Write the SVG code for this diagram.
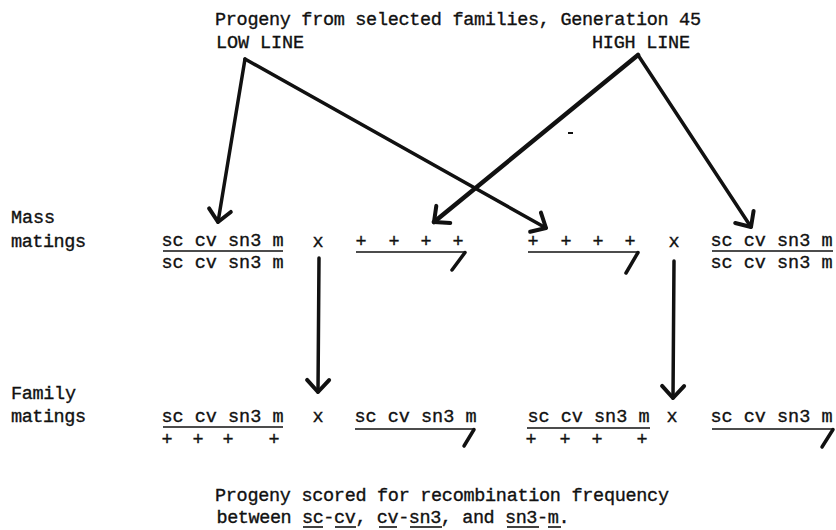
<svg xmlns="http://www.w3.org/2000/svg" width="836" height="530" viewBox="0 0 836 530">
<style>
text{font-family:"Liberation Mono","Courier New",monospace;font-size:18.5px;fill:#111;stroke:#111;stroke-width:0.35}
.c{text-anchor:middle}
.bar{stroke:#111;stroke-width:1.6;fill:none}
.hook{stroke:#111;stroke-width:3.5;stroke-linecap:round;fill:none}
.arr{stroke:#111;stroke-width:3.5;stroke-linecap:round;fill:none;marker-end:url(#ah)}
.arr.thick{stroke-width:4.5}
</style>
<defs>
<marker id="ah" markerUnits="userSpaceOnUse" markerWidth="30" markerHeight="30" refX="0" refY="0" orient="auto" overflow="visible">
<path d="M -12 -11 L 0 0 L -12 11" fill="none" stroke="#111" stroke-width="4" stroke-linecap="round" stroke-linejoin="round"/>
</marker>
</defs>
<rect width="836" height="530" fill="#fff"/>

<g id="title">
<text x="215" y="25" textLength="486" lengthAdjust="spacing">Progeny from selected families, Generation 45</text>
</g>
<g id="low-line"><text x="216" y="48" textLength="88" lengthAdjust="spacing">LOW LINE</text></g>
<g id="high-line"><text x="592" y="48" textLength="98" lengthAdjust="spacing">HIGH LINE</text></g>

<g id="label-mass">
<text x="11" y="223" textLength="44" lengthAdjust="spacing">Mass</text>
<text x="11" y="247" textLength="75" lengthAdjust="spacing">matings</text>
</g>
<g id="label-family">
<text x="11" y="399" textLength="65" lengthAdjust="spacing">Family</text>
<text x="11" y="422" textLength="75" lengthAdjust="spacing">matings</text>
</g>

<!-- Mass matings -->
<g id="mass-low-female">
<text x="161.5" y="246" textLength="122" lengthAdjust="spacing">sc cv sn3 m</text>
<line class="bar" x1="163" y1="251" x2="283" y2="251"/>
<text x="161.5" y="268" textLength="122" lengthAdjust="spacing">sc cv sn3 m</text>
</g>
<g id="mass-x1"><text class="c" x="318" y="247">x</text></g>
<g id="mass-high-male">
<text class="c" x="361 394 426 458" y="247">++++</text>
<line class="bar" x1="356" y1="252" x2="465" y2="252"/>
<line class="hook" x1="465" y1="252.5" x2="452" y2="270"/>
</g>
<g id="mass-low-male">
<text class="c" x="533 566 598 630" y="247">++++</text>
<line class="bar" x1="528" y1="252" x2="638" y2="252"/>
<line class="hook" x1="638" y1="252.5" x2="626" y2="273"/>
</g>
<g id="mass-x2"><text class="c" x="674" y="247">x</text></g>
<g id="mass-high-female">
<text x="710.5" y="246" textLength="122" lengthAdjust="spacing">sc cv sn3 m</text>
<line class="bar" x1="712" y1="251" x2="833" y2="251"/>
<text x="710.5" y="268" textLength="122" lengthAdjust="spacing">sc cv sn3 m</text>
</g>

<!-- Family matings -->
<g id="family-low-female">
<text x="161.5" y="422" textLength="122" lengthAdjust="spacing">sc cv sn3 m</text>
<line class="bar" x1="163" y1="427" x2="283" y2="427"/>
<text class="c" x="167 198 228 274" y="445">++++</text>
</g>
<g id="family-x1"><text class="c" x="318" y="422">x</text></g>
<g id="family-low-male">
<text x="354.5" y="422" textLength="122" lengthAdjust="spacing">sc cv sn3 m</text>
<line class="bar" x1="355" y1="429" x2="474" y2="429"/>
<line class="hook" x1="474" y1="429.5" x2="464" y2="446"/>
</g>
<g id="family-high-female">
<text x="527.5" y="422" textLength="122" lengthAdjust="spacing">sc cv sn3 m</text>
<line class="bar" x1="527" y1="428" x2="650" y2="428"/>
<text class="c" x="531 565 597 642" y="445">++++</text>
</g>
<g id="family-x2"><text class="c" x="672" y="422">x</text></g>
<g id="family-high-male">
<text x="710.5" y="422" textLength="122" lengthAdjust="spacing">sc cv sn3 m</text>
<line class="bar" x1="712" y1="429" x2="833" y2="429"/>
<line class="hook" x1="833" y1="429.5" x2="822" y2="447"/>
</g>

<g id="footer">
<text x="215" y="501" textLength="454" lengthAdjust="spacing">Progeny scored for recombination frequency</text>
<text x="216.5" y="523" textLength="353" lengthAdjust="spacing">between sc-cv, cv-sn3, and sn3-m.</text>
<line class="bar" x1="303" y1="527" x2="323" y2="527"/>
<line class="bar" x1="335" y1="527" x2="356" y2="527"/>
<line class="bar" x1="379" y1="527" x2="397" y2="527"/>
<line class="bar" x1="410" y1="527" x2="442" y2="527"/>
<line class="bar" x1="507" y1="527" x2="539" y2="527"/>
<line class="bar" x1="548" y1="527" x2="561" y2="527"/>
</g>

<g id="connectors">
<line class="arr" x1="245" y1="59" x2="218" y2="222"/>
<line class="arr" x1="245" y1="59" x2="546" y2="228"/>
<line class="arr thick" x1="638" y1="55" x2="434" y2="222"/>
<line class="arr" x1="638" y1="55" x2="751" y2="227"/>
<line class="arr" x1="319" y1="258" x2="318" y2="392"/>
<line class="arr" x1="674" y1="261" x2="673" y2="398"/>
</g>
<rect x="568" y="132" width="5" height="2" fill="#111"/>
</svg>
